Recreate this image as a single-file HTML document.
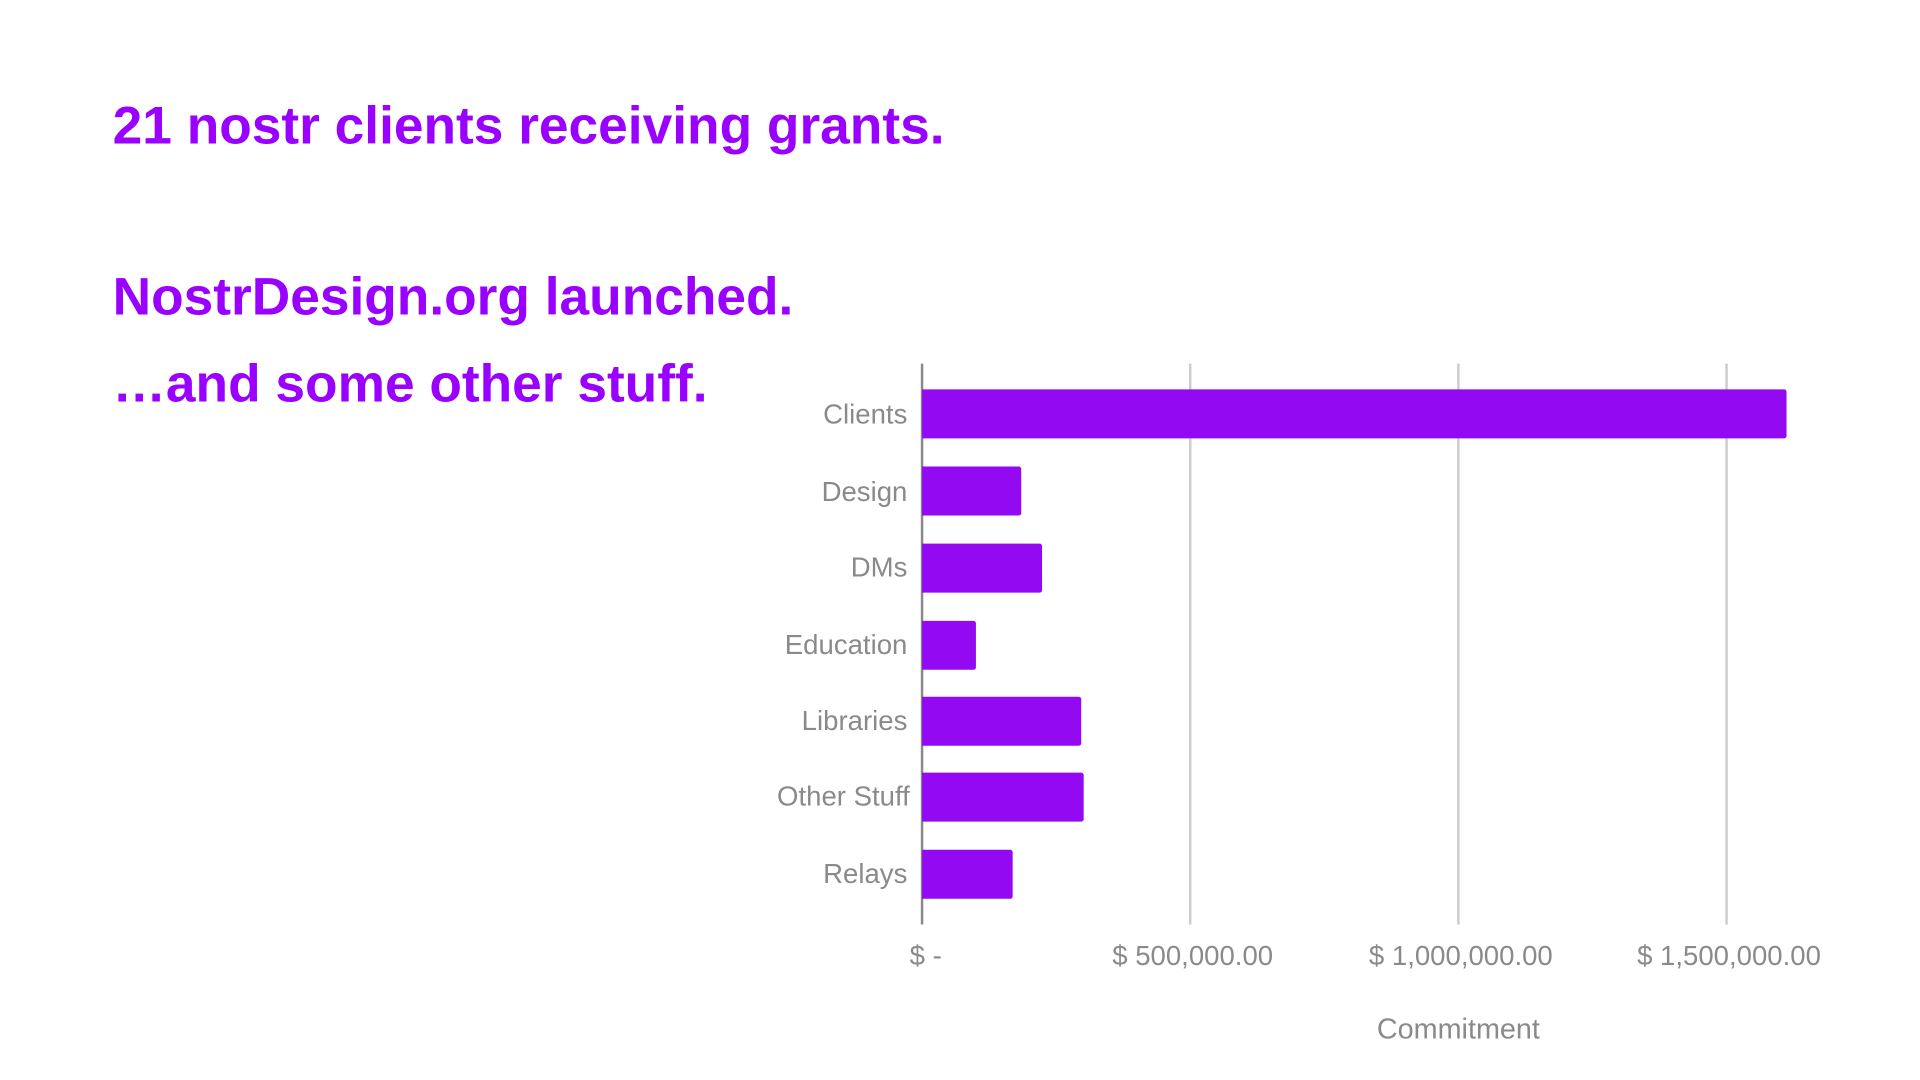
<!DOCTYPE html>
<html><head><style>
html,body{margin:0;padding:0;background:#fff;}
body{width:1920px;height:1080px;overflow:hidden;position:relative;}
#c{position:absolute;left:0;top:0;width:1568px;height:882px;transform:scale(1.2245);transform-origin:0 0;font-family:"Liberation Sans",Arial,sans-serif;}
.t{position:absolute;left:92px;color:#9900ff;font-weight:bold;font-size:43.5px;white-space:nowrap;line-height:1;}
.g{position:absolute;top:297px;height:458px;width:1.5px;background:#cccccc;}
.bar{position:absolute;left:753px;height:40px;background:#930af2;border-radius:0 2px 2px 0;}
.lb{position:absolute;right:827px;color:#8a8a8a;font-size:22.5px;line-height:1;white-space:nowrap;text-align:right;}
.tk{position:absolute;top:770px;color:#8a8a8a;font-size:22.5px;line-height:1;white-space:nowrap;transform:translateX(-50%);}
</style></head><body><div id="c">
<div class="t" style="top:82px">21 nostr clients receiving grants.</div>
<div class="t" style="top:222px">NostrDesign.org launched.</div>
<div class="t" style="top:293px">…and some other stuff.</div>
<div class="g" style="left:971px"></div>
<div class="g" style="left:1190px"></div>
<div class="g" style="left:1409px"></div>
<div class="g" style="left:752px;background:#888;"></div>
<div class="bar" style="top:318px;width:706px"></div>
<div class="bar" style="top:381px;width:81px"></div>
<div class="bar" style="top:444px;width:98px"></div>
<div class="bar" style="top:507px;width:44px"></div>
<div class="bar" style="top:569px;width:130px"></div>
<div class="bar" style="top:631px;width:132px"></div>
<div class="bar" style="top:694px;width:74px"></div>
<div class="lb" style="top:328px">Clients</div>
<div class="lb" style="top:391px">Design</div>
<div class="lb" style="top:453px">DMs</div>
<div class="lb" style="top:516px">Education</div>
<div class="lb" style="top:578px">Libraries</div>
<div class="lb" style="top:640px;right:825px">Other Stuff</div>
<div class="lb" style="top:703px">Relays</div>
<div class="tk" style="left:756px">$ -</div>
<div class="tk" style="left:974px">$ 500,000.00</div>
<div class="tk" style="left:1193px">$ 1,000,000.00</div>
<div class="tk" style="left:1412px">$ 1,500,000.00</div>
<div class="tk" style="left:1191px;top:829px;font-size:23.5px">Commitment</div>
</div></body></html>
